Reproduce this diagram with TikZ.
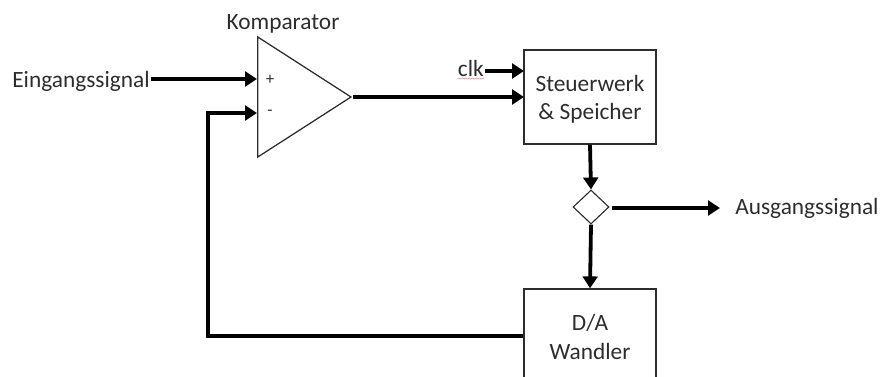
\documentclass[tikz,border=0pt]{standalone}
\usepackage{fontspec}
\setmainfont{Carlito}
\usepackage{tikz}
\usetikzlibrary{positioning,calc}
\usetikzlibrary{arrows.meta,decorations.pathmorphing,shapes.geometric}
\definecolor{InkGray}{RGB}{45,45,45}
\definecolor{SpellRed}{RGB}{215,140,140}
\tikzset{
	block/.style={draw=InkGray,fill=white,line width=0.9pt,inner sep=0pt,minimum width=3.3cm,
		minimum height=2.35cm,align=center,text=InkGray,font=\fontsize{16.6}{20}\selectfont},
	lbl/.style={inner sep=0pt,text=InkGray,font=\fontsize{16.6}{20}\selectfont},
	sign/.style={inner sep=0pt,text=InkGray,font=\fontsize{12}{14}\selectfont},
	signal/.style={draw=black,line width=2.7pt,-{Triangle[length=8.5pt,width=10.5pt]}},
}
\begin{document}
\begin{tikzpicture}[x=0.025cm,y=-0.025cm]
	\useasboundingbox (0,0) rectangle (881,376);
	% blocks
	\node[block] (steuer) at (590,97) {\rule{0pt}{15pt}Steuerwerk\\\& Speicher};
	\node[block,minimum height=2.4cm] (wandler) at (590,337) {D/A\\Wandler};
	\node[draw=InkGray,fill=white,line width=0.9pt,isosceles triangle,isosceles triangle stretches,
		inner sep=0pt,minimum width=3cm,minimum height=2.33cm] (komp) at (290.5,97) {};
	\node[draw=InkGray,fill=white,line width=0.8pt,diamond,inner sep=0pt,minimum width=0.9cm,
		minimum height=0.85cm] (verzw) at (591,207) {};
	% labels
	\node[lbl] (kompname) at (283,24) {Komparator};
	\node[lbl,anchor=east] (ein) at (150,81) {Eingangssignal};
	\node[lbl,anchor=west] (aus) at (735,208) {Ausgangssignal};
	\node[lbl,anchor=east] (clk) at (484,68) {clk};
	\node[sign] (plus) at (270,80) {+};
	\node[sign] (minus) at (270,113) {-};
	\draw[SpellRed,line width=0.4pt,decorate,decoration={snake,amplitude=0.4pt,segment length=2.5pt}]
		($(clk.south west)+(0,2)$)--($(clk.south east)+(0,2)$);
	% connection points
	\coordinate (kplus) at (257,79);
	\coordinate (kminus) at (257,113);
	\coordinate (sclk) at (524,71);
	\coordinate (sein) at (524,97);
	\coordinate (clkend) at (485,71);
	\coordinate (einend) at (151,79);
	\coordinate (ruck) at (208,336);
	% connectors
	\draw[signal] (einend)--(kplus);
	\draw[signal] (komp.apex)--(sein);
	\draw[signal] (clkend)--(sclk);
	\draw[signal] (steuer.south)--(verzw.north);
	\draw[signal] (verzw.east)++(2,1)--(720,208);
	\draw[signal] (verzw.south)--(wandler.north);
	\draw[signal] (wandler.west|-ruck)--(ruck)--(ruck|-kminus)--(kminus);
\end{tikzpicture}
\end{document}
